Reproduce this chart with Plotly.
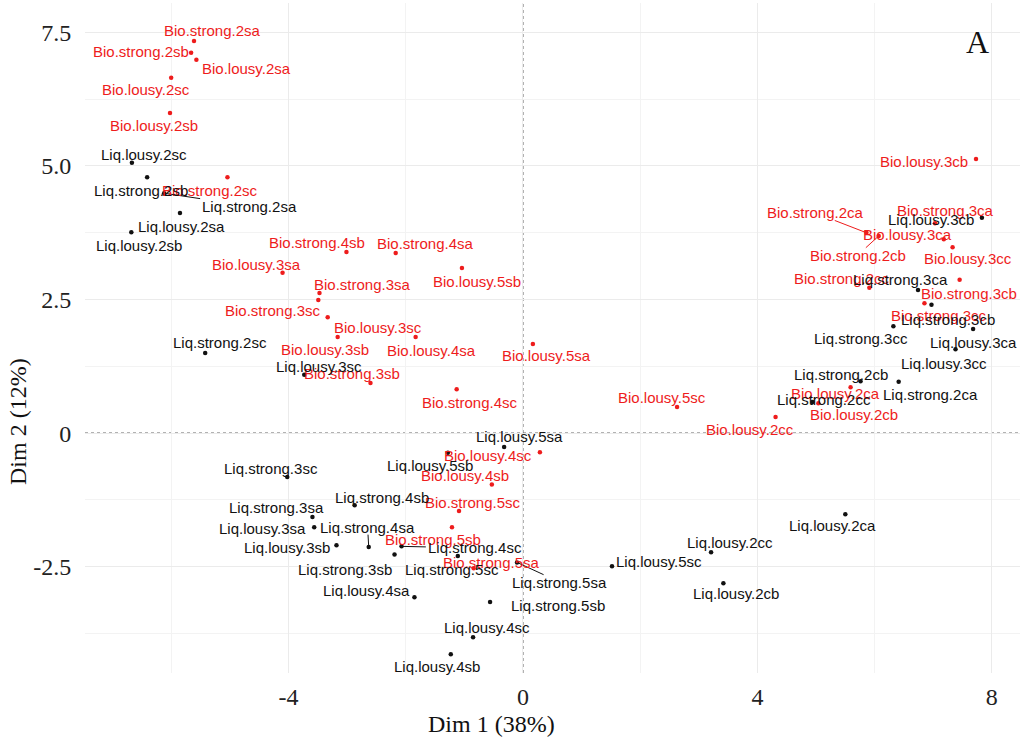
import plotly.graph_objects as go

# ---------------- data (PCA individual coordinates) -------------
bio_names = ["Bio.strong.2sa", "Bio.strong.2sb", "Bio.lousy.2sa", "Bio.lousy.2sc", "Bio.lousy.2sb",
             "Bio.strong.2sc", "Bio.strong.4sb", "Bio.strong.4sa", "Bio.lousy.3sa", "Bio.lousy.5sb",
             "Bio.strong.3sa", "Bio.strong.3sc", "Bio.lousy.3sc", "Bio.lousy.3sb", "Bio.lousy.4sa",
             "Bio.strong.3sb", "Bio.strong.4sc", "Bio.lousy.5sa", "Bio.lousy.4sc", "Bio.lousy.4sb",
             "Bio.strong.5sc", "Bio.strong.5sb", "Bio.strong.5sa", "Bio.lousy.5sc", "Bio.lousy.2cc",
             "Bio.lousy.3cb", "Bio.strong.2ca", "Bio.strong.2cb", "Bio.strong.3ca", "Bio.lousy.3ca",
             "Bio.lousy.3cc", "Bio.strong.2cc", "Bio.strong.3cb", "Bio.strong.3cc", "Bio.lousy.2ca",
             "Bio.lousy.2cb"]
bio_x = [-5.61, -5.66, -5.57, -6.00, -6.02, -5.04, -3.01, -2.17, -4.10, -1.04,
         -3.47, -3.49, -3.33, -3.16, -1.83, -2.60, -1.13, 0.17, 0.29, -0.53,
         -1.09, -1.21, -0.84, 2.63, 4.31, 7.73, 5.86, 6.07, 7.03, 7.18,
         7.33, 5.91, 7.45, 6.85, 5.59, 5.04]
bio_y = [7.34, 7.12, 6.99, 6.65, 5.99, 4.79, 3.39, 3.37, 3.00, 3.09,
         2.62, 2.49, 2.17, 1.80, 1.80, 0.94, 0.82, 1.67, -0.36, -0.96,
         -1.46, -1.76, -2.53, 0.49, 0.30, 5.13, 3.75, 3.69, 3.93, 3.63,
         3.48, 2.72, 2.87, 2.43, 0.86, 0.56]
bio_label_x = [-5.30, -6.51, -4.72, -6.43, -6.29, -5.33, -3.52, -1.66, -4.55, -0.79,
               -2.74, -4.27, -2.48, -3.38, -1.56, -2.91, -0.91, 0.41, -0.60, -0.99,
               -0.85, -1.54, -0.53, 2.38, 3.88, 6.84, 4.99, 5.71, 7.21, 6.56,
               7.59, 5.45, 7.61, 7.09, 5.33, 5.64]
bio_label_y = [7.53, 7.15, 6.82, 6.44, 5.75, 4.55, 3.56, 3.54, 3.15, 2.83,
               2.79, 2.30, 1.97, 1.57, 1.55, 1.12, 0.58, 1.46, -0.41, -0.79,
               -1.29, -2.00, -2.42, 0.66, 0.07, 5.09, 4.12, 3.33, 4.16, 3.71,
               3.26, 2.90, 2.62, 2.21, 0.75, 0.34]

liq_names = ["Liq.lousy.2sc", "Liq.strong.2sb", "Liq.strong.2sa", "Liq.lousy.2sa", "Liq.lousy.2sb",
             "Liq.strong.2sc", "Liq.lousy.3sc", "Liq.lousy.5sa", "Liq.lousy.5sb", "Liq.strong.3sc",
             "Liq.strong.4sb", "Liq.strong.3sa", "Liq.lousy.3sa", "Liq.strong.4sa", "Liq.lousy.3sb",
             "Liq.strong.4sc", "Liq.strong.3sb", "Liq.strong.5sc", "Liq.strong.5sa", "Liq.lousy.4sa",
             "Liq.strong.5sb", "Liq.lousy.4sc", "Liq.lousy.4sb", "Liq.lousy.2cc", "Liq.lousy.5sc",
             "Liq.lousy.2cb", "Liq.lousy.2ca", "Liq.lousy.3cb", "Liq.strong.3ca", "Liq.strong.3cb",
             "Liq.strong.3cc", "Liq.lousy.3ca", "Liq.lousy.3cc", "Liq.strong.2cb", "Liq.strong.2ca",
             "Liq.strong.2cc"]
liq_x = [-6.67, -6.41, -6.12, -5.85, -6.68, -5.42, -3.73, -0.32, -1.28, -4.02,
         -2.87, -3.59, -3.56, -2.63, -3.18, -2.07, -2.19, -1.11, -0.10, -1.85,
         -0.56, -0.85, -1.23, 3.21, 1.52, 3.42, 5.50, 7.83, 6.74, 6.97,
         6.32, 7.68, 7.38, 5.76, 6.41, 4.94]
liq_y = [5.06, 4.79, 4.49, 4.12, 3.76, 1.50, 1.09, -0.26, -0.37, -0.82,
         -1.35, -1.57, -1.76, -2.13, -2.10, -2.12, -2.27, -2.30, -2.42, -3.07,
         -3.16, -3.82, -4.14, -2.23, -2.49, -2.81, -1.52, 4.03, 2.68, 2.40,
         2.00, 1.95, 1.57, 0.97, 0.96, 0.58]
liq_label_x = [-6.46, -6.51, -4.67, -5.83, -6.55, -5.16, -3.47, -0.05, -1.59, -4.29,
               -2.41, -4.21, -4.44, -2.65, -4.02, -0.82, -3.04, -1.21, 0.63, -2.67,
               0.60, -0.62, -1.47, 3.54, 2.32, 3.64, 5.28, 6.96, 6.44, 7.25,
               5.76, 7.69, 7.18, 5.42, 6.96, 5.13]
liq_label_y = [5.21, 4.55, 4.25, 3.86, 3.52, 1.69, 1.24, -0.06, -0.60, -0.66,
               -1.20, -1.39, -1.78, -1.76, -2.15, -2.15, -2.55, -2.55, -2.79, -2.94,
               -3.22, -3.63, -4.36, -2.04, -2.40, -3.01, -1.72, 3.99, 2.88, 2.13,
               1.78, 1.70, 1.31, 1.10, 0.73, 0.62]

segment_names = ["Liq.strong.2sa", "Liq.strong.4sa", "Liq.strong.4sc", "Liq.strong.5sa",
                 "Bio.strong.2ca", "Bio.strong.2cb"]

x_ticks = [-4, 0, 4, 8]
x_tick_text = ["-4", "0", "4", "8"]
y_ticks = [-2.5, 0, 2.5, 5.0, 7.5]
y_tick_text = ["-2.5", "0", "2.5", "5.0", "7.5"]

# ---------------- styling ----------------
RED = "#EE1C1C"
BLACK = "#111111"
LABEL_FONT = "Liberation Sans, Arial, sans-serif"
SERIF = "Liberation Serif, Times New Roman, serif"
W, H = 1021, 742
ML, MR, MT, MB = 85, 1, 3, 69
XR = [-7.47, 8.48]
YR = [-4.49, 8.05]
LABEL_SIZE = 15

px_per_x = (W - ML - MR) / (XR[1] - XR[0])
px_per_y = (H - MT - MB) / (YR[1] - YR[0])

fig = go.Figure()

groups = [
    (bio_names, bio_x, bio_y, bio_label_x, bio_label_y, RED),
    (liq_names, liq_x, liq_y, liq_label_x, liq_label_y, BLACK),
]

annotations = []
for names, xs, ys, lxs, lys, col in groups:
    # connector segments (clipped at the label box)
    for n, x, y, lx, ly in zip(names, xs, ys, lxs, lys):
        if n in segment_names:
            dxp = (x - lx) * px_per_x
            dyp = (y - ly) * px_per_y
            hw = len(n) * 7.0 / 2
            hh = 7.5
            t = min(hw / abs(dxp) if dxp else 1e9, hh / abs(dyp) if dyp else 1e9)
            ex = lx + t * (x - lx)
            ey = ly + t * (y - ly)
            fig.add_trace(go.Scatter(x=[x, ex], y=[y, ey], mode="lines",
                                     line=dict(color=col, width=1), hoverinfo="skip",
                                     showlegend=False, cliponaxis=False))
    fig.add_trace(go.Scatter(x=xs, y=ys, mode="markers", text=names,
                             marker=dict(color=col, size=4.5), showlegend=False,
                             hovertemplate="%{text}<br>(%{x}, %{y})<extra></extra>"))
    for n, lx, ly in zip(names, lxs, lys):
        annotations.append(dict(x=lx, y=ly, xref="x", yref="y", text=n, showarrow=False,
                                xanchor="center", yanchor="middle",
                                font=dict(family=LABEL_FONT, size=LABEL_SIZE, color=col)))

# axis titles and panel letter
PH = H - MT - MB
annotations.append(dict(x=(491 - ML) / (W - ML - MR), y=(H - MB - 724) / PH,
                        xref="paper", yref="paper", text="Dim 1 (38%)", showarrow=False,
                        xanchor="center", yanchor="middle",
                        font=dict(family=SERIF, size=24, color="#111")))
annotations.append(dict(x=(18 - ML) / (W - ML - MR), y=(H - MB - 422) / PH,
                        xref="paper", yref="paper", text="Dim 2 (12%)", showarrow=False,
                        textangle=-90, xanchor="center", yanchor="middle",
                        font=dict(family=SERIF, size=24, color="#111")))
annotations.append(dict(x=(977 - ML) / (W - ML - MR), y=(H - MB - 42) / PH,
                        xref="paper", yref="paper", text="A", showarrow=False,
                        xanchor="center", yanchor="middle",
                        font=dict(family=SERIF, size=32, color="#111")))

fig.update_layout(
    width=W, height=H,
    margin=dict(l=ML, r=MR, t=MT, b=MB, autoexpand=False),
    paper_bgcolor="white", plot_bgcolor="white",
    annotations=annotations,
    shapes=[
        dict(type="line", xref="x", yref="paper", x0=0, x1=0, y0=0, y1=1,
             line=dict(color="#666", width=1.2, dash="3px,3px"), layer="below"),
        dict(type="line", xref="paper", yref="y", x0=0, x1=1, y0=0, y1=0,
             line=dict(color="#666", width=1.2, dash="3px,3px"), layer="below"),
    ],
)
fig.update_xaxes(range=XR, tickvals=x_ticks, ticktext=x_tick_text, showgrid=True,
                 gridcolor="#EBEBEB", gridwidth=1, zeroline=False, showline=False,
                 ticks="", ticklen=0, ticklabelstandoff=7,
                 tickfont=dict(family=SERIF, size=24, color="#222"),
                 minor=dict(tickvals=[-6, -2, 2, 6], showgrid=True, gridcolor="#F3F3F3",
                            gridwidth=1))
fig.update_yaxes(range=YR, tickvals=y_ticks, ticktext=y_tick_text, showgrid=True,
                 gridcolor="#EBEBEB", gridwidth=1, zeroline=False, showline=False,
                 ticks="outside", ticklen=8, tickcolor="rgba(0,0,0,0)",
                 tickfont=dict(family=SERIF, size=24, color="#222"),
                 minor=dict(tickvals=[-3.75, -1.25, 1.25, 3.75, 6.25], showgrid=True,
                            gridcolor="#F3F3F3", gridwidth=1))

fig.write_html("out.html", config={"displayModeBar": False},
               post_script="document.body.style.margin='0';document.body.style.padding='0';")
